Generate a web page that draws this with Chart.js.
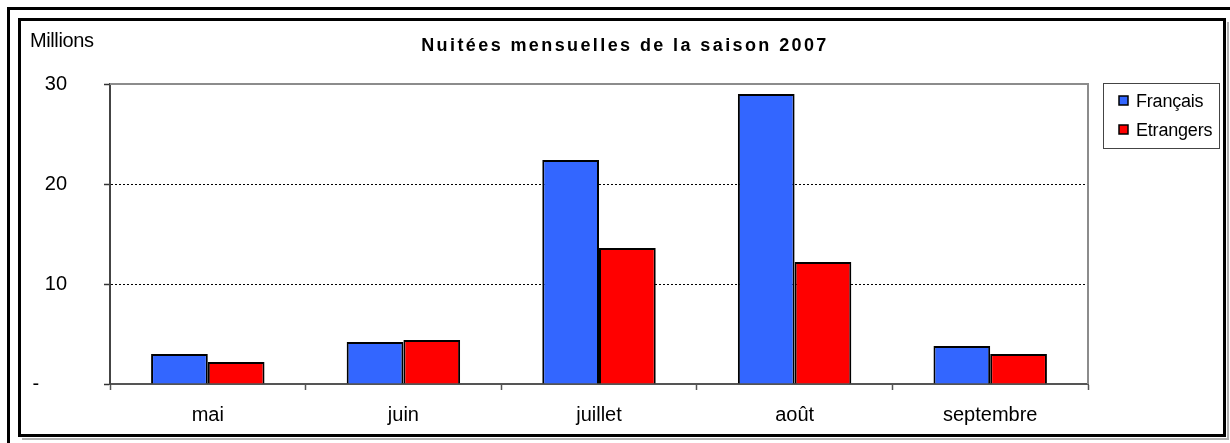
<!DOCTYPE html>
<html>
<head>
<meta charset="utf-8">
<script src="https://cdn.jsdelivr.net/npm/chart.js@4/dist/chart.umd.min.js"></script>
<style>
  body { margin: 0; background: #fff; }
  #wrap { width: 1230px; height: 443px; position: relative; }
</style>
</head>
<body>
<div id="wrap"><canvas id="chart"></canvas></div>
<script>
// data (millions of nights)
const months = ['mai', 'juin', 'juillet', 'août', 'septembre'];
const francais = [3.0, 4.2, 22.4, 29.0, 3.8];
const etrangers = [2.2, 4.4, 13.6, 12.2, 3.0];
const seriesNames = ['Français', 'Etrangers'];
const seriesColors = ['#3366ff', '#ff0000'];
const titleText = 'Nuitées mensuelles de la saison 2007';
const unitText = 'Millions';

const FONT = '"Liberation Sans", Arial, sans-serif';

// frames, title, unit label and the boxed legend
const decorations = {
    id: 'decorations',
    beforeDraw(chart) {
        const ctx = chart.ctx;
        ctx.save();
        ctx.fillStyle = '#fff';
        ctx.fillRect(0, 0, chart.width, chart.height);
        ctx.restore();
    },
    beforeDatasetsDraw(chart) {
        const ctx = chart.ctx;
        const a = chart.chartArea;
        ctx.save();
        // gray top/right edge of the plot area
        ctx.strokeStyle = '#8c8c8c';
        ctx.lineWidth = 2;
        ctx.beginPath();
        ctx.moveTo(a.left, a.top);
        ctx.lineTo(a.right, a.top);
        ctx.lineTo(a.right, a.bottom);
        ctx.stroke();
        ctx.restore();
    },
    afterDraw(chart) {
        const ctx = chart.ctx;
        ctx.save();
        // outer frame (left and top only) and the inner box
        ctx.strokeStyle = '#000';
        ctx.lineWidth = 3;
        ctx.beginPath();
        ctx.moveTo(8.5, chart.height);
        ctx.lineTo(8.5, 8.5);
        ctx.lineTo(chart.width, 8.5);
        ctx.stroke();
        ctx.strokeStyle = '#b0b0b0';
        ctx.lineWidth = 2;
        ctx.beginPath();
        ctx.moveTo(1228, 22);
        ctx.lineTo(1228, 439);
        ctx.lineTo(22, 439);
        ctx.stroke();
        ctx.strokeStyle = '#000';
        ctx.lineWidth = 3;
        ctx.strokeRect(19.5, 19.5, 1205, 416);

        // unit label and title
        ctx.fillStyle = '#000';
        ctx.textBaseline = 'middle';
        ctx.textAlign = 'left';
        ctx.font = '20px ' + FONT;
        ctx.letterSpacing = '-0.4px';
        ctx.fillText(unitText, 30, 41);
        ctx.letterSpacing = '2.4px';
        ctx.font = 'bold 18px ' + FONT;
        ctx.textAlign = 'center';
        ctx.fillText(titleText, 625, 46);
        ctx.letterSpacing = '0px';

        // legend box
        ctx.strokeStyle = '#444';
        ctx.lineWidth = 1;
        ctx.strokeRect(1103.5, 83.5, 116, 65);
        ctx.font = '18px ' + FONT;
        ctx.textAlign = 'left';
        ctx.letterSpacing = '-0.2px';
        chart.data.datasets.forEach((ds, i) => {
            const y = 101 + i * 29;
            ctx.fillStyle = ds.backgroundColor;
            ctx.fillRect(1119, y - 5, 9, 9);
            ctx.strokeStyle = '#000';
            ctx.lineWidth = 1.5;
            ctx.strokeRect(1119, y - 5, 9, 9);
            ctx.fillStyle = '#000';
            ctx.fillText(ds.label, 1136, y + 1);
        });
        ctx.restore();
    }
};

const ctx = document.getElementById('chart').getContext('2d');
new Chart(ctx, {
    type: 'bar',
    data: {
        labels: months,
        datasets: [
            { label: seriesNames[0], data: francais, backgroundColor: seriesColors[0] },
            { label: seriesNames[1], data: etrangers, backgroundColor: seriesColors[1] }
        ]
    },
    plugins: [decorations],
    options: {
        responsive: true,
        maintainAspectRatio: false,
        animation: false,
        devicePixelRatio: 1,
        layout: { padding: { left: 20, right: 142, top: 84, bottom: 7 } },
        datasets: {
            bar: {
                borderColor: '#000',
                borderWidth: 2,
                borderSkipped: 'bottom',
                categoryPercentage: 0.58,
                barPercentage: 1
            }
        },
        plugins: {
            legend: { display: false },
            title: { display: false },
            tooltip: { enabled: false }
        },
        scales: {
            x: {
                afterFit(scale) { scale.height = 52; },
                grid: {
                    drawOnChartArea: false,
                    tickLength: 6,
                    tickColor: '#555',
                    tickWidth: 1.5
                },
                border: { color: '#555', width: 2 },
                ticks: {
                    color: '#000',
                    padding: 13,
                    font: { family: FONT, size: 20 }
                }
            },
            y: {
                min: 0,
                max: 30,
                afterFit(scale) { scale.width = 90; },
                grid: {
                    color: ctx => (ctx.tick && ctx.tick.value > 0 && ctx.tick.value < 30) ? '#000' : 'rgba(0,0,0,0)',
                    lineWidth: 1,
                    tickLength: 6,
                    tickColor: '#333',
                    tickWidth: 1.5
                },
                border: { color: '#444', width: 2, dash: [2, 2] },
                ticks: {
                    stepSize: 10,
                    color: '#000',
                    padding: 37,
                    font: { family: FONT, size: 20 },
                    callback: v => v === 0 ? '-     ' : String(v)
                }
            }
        }
    }
});
</script>
</body>
</html>
